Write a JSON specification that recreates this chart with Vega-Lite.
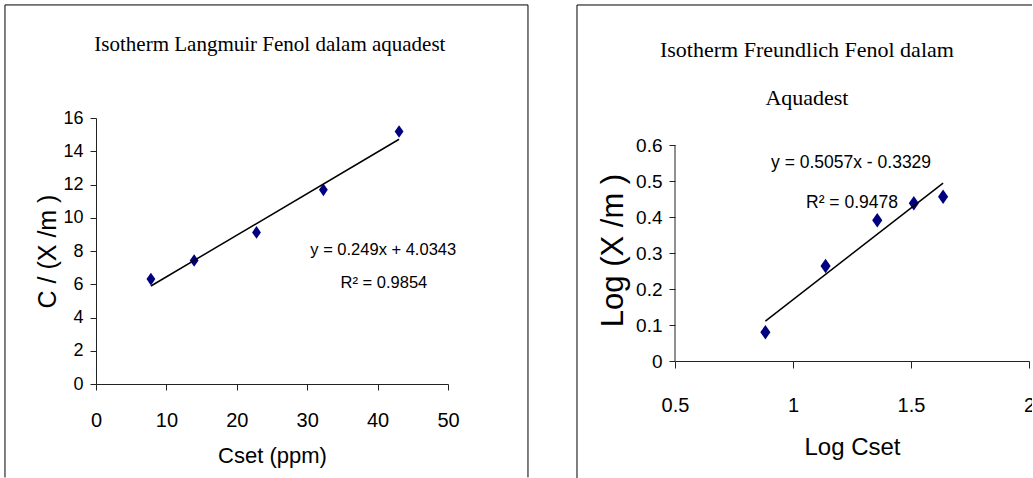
{
  "$schema": "https://vega.github.io/schema/vega-lite/v6.json",
  "padding": {"left": 4, "top": 4, "right": -3, "bottom": -1},
  "autosize": {"type": "pad"},
  "spacing": 47,
  "background": "white",
  "config": {
    "view": {"stroke": null},
    "axis": {"domainColor": "#222", "tickColor": "#222", "labelColor": "#000", "titleColor": "#000", "titleFontWeight": "normal", "grid": false, "domainWidth": 1, "tickWidth": 1, "labelOverlap": false, "labelSeparation": 0}
  },
  "datasets": {
    "langmuir": [
      {"cset": 7.8, "cf": 6.31},
      {"cset": 13.94, "cf": 7.43},
      {"cset": 22.8, "cf": 9.12},
      {"cset": 32.3, "cf": 11.68},
      {"cset": 43.05, "cf": 15.19}
    ],
    "freundlich": [
      {"logc": 0.883, "logq": 0.08},
      {"logc": 1.138, "logq": 0.264},
      {"logc": 1.357, "logq": 0.391},
      {"logc": 1.512, "logq": 0.438},
      {"logc": 1.636, "logq": 0.456}
    ],
    "one": [{}]
  },
  "hconcat": [
    {
      "width": 352,
      "height": 266,
      "layer": [
        {
          "data": {"name": "langmuir"},
          "mark": {"type": "point", "filled": true, "shape": "M0,-1L0.7,0L0,1L-0.7,0Z", "size": 160, "color": "#000080", "opacity": 1},
          "encoding": {
            "x": {"field": "cset", "type": "quantitative", "scale": {"domain": [0, 50], "nice": false},
              "axis": {"title": "Cset (ppm)", "values": [0, 10, 20, 30, 40, 50], "format": "d", "labelOverlap": false, "labelFlush": false, "labelFont": "Liberation Sans", "labelFontSize": 20, "labelPadding": 20, "tickSize": 6, "titleFont": "Liberation Sans", "titleFontSize": 22, "titlePadding": 15}},
            "y": {"field": "cf", "type": "quantitative", "scale": {"domain": [0, 16], "nice": false},
              "axis": {"title": "C / (X /m )", "values": [0, 2, 4, 6, 8, 10, 12, 14, 16], "tickCount": 9, "format": "d", "labelOverlap": false, "labelFont": "Liberation Sans", "labelFontSize": 18, "labelPadding": 7, "tickSize": 6, "titleFont": "Liberation Sans", "titleFontSize": 25, "titlePadding": 2}}
          }
        },
        {
          "data": {"name": "langmuir"},
          "transform": [{"regression": "cf", "on": "cset"}],
          "mark": {"type": "line", "color": "#000", "strokeWidth": 1.5},
          "encoding": {
            "x": {"field": "cset", "type": "quantitative", "scale": {"domain": [0, 50], "nice": false}},
            "y": {"field": "cf", "type": "quantitative", "scale": {"domain": [0, 16], "nice": false}}
          }
        },
        {
          "data": {"name": "one"},
          "mark": {"type": "text", "text": "y = 0.249x + 4.0343", "font": "Liberation Sans", "fontSize": 16.5, "color": "#000"},
          "encoding": {
            "x": {"datum": 40.8, "type": "quantitative", "scale": {"domain": [0, 50], "nice": false}},
            "y": {"datum": 8.06, "type": "quantitative", "scale": {"domain": [0, 16], "nice": false}}
          }
        },
        {
          "data": {"name": "one"},
          "mark": {"type": "text", "text": "R² = 0.9854", "font": "Liberation Sans", "fontSize": 16.5, "color": "#000"},
          "encoding": {
            "x": {"datum": 40.9, "type": "quantitative", "scale": {"domain": [0, 50], "nice": false}},
            "y": {"datum": 6.07, "type": "quantitative", "scale": {"domain": [0, 16], "nice": false}}
          }
        },
        {
          "data": {"name": "one"},
          "mark": {"type": "text", "text": "Isotherm Langmuir Fenol dalam aquadest", "font": "Liberation Serif", "fontSize": 21, "color": "#000"},
          "encoding": {
            "x": {"datum": 24.7, "type": "quantitative", "scale": {"domain": [0, 50], "nice": false}},
            "y": {"datum": 20.38, "type": "quantitative", "scale": {"domain": [0, 16], "nice": false}}
          }
        },
        {
          "data": {"name": "one"},
          "mark": {"type": "rule", "color": "#000", "strokeWidth": 1, "clip": false},
          "encoding": {
            "x": {"datum": -12.93, "type": "quantitative", "scale": {"domain": [0, 50], "nice": false}},
            "x2": {"datum": 61.36},
            "y": {"datum": 22.8, "type": "quantitative", "scale": {"domain": [0, 16], "nice": false}}
          }
        },
        {
          "data": {"name": "one"},
          "mark": {"type": "rule", "color": "#000", "strokeWidth": 1, "clip": false},
          "encoding": {
            "x": {"datum": -12.93, "type": "quantitative", "scale": {"domain": [0, 50], "nice": false}},
            "y": {"datum": 22.8, "type": "quantitative", "scale": {"domain": [0, 16], "nice": false}},
            "y2": {"datum": -5.62}
          }
        },
        {
          "data": {"name": "one"},
          "mark": {"type": "rule", "color": "#000", "strokeWidth": 1, "clip": false},
          "encoding": {
            "x": {"datum": 61.36, "type": "quantitative", "scale": {"domain": [0, 50], "nice": false}},
            "y": {"datum": 22.8, "type": "quantitative", "scale": {"domain": [0, 16], "nice": false}},
            "y2": {"datum": -5.62}
          }
        }
      ]
    },
    {
      "width": 354,
      "height": 243,
      "layer": [
        {
          "data": {"name": "freundlich"},
          "mark": {"type": "point", "filled": true, "shape": "M0,-1L0.7,0L0,1L-0.7,0Z", "size": 210, "color": "#000080", "opacity": 1},
          "encoding": {
            "x": {"field": "logc", "type": "quantitative", "scale": {"domain": [0.5, 2], "nice": false, "zero": false},
              "axis": {"title": "Log Cset", "values": [0.5, 1, 1.5, 2], "format": "~g", "labelOverlap": false, "labelFlush": false, "labelFont": "Liberation Sans", "labelFontSize": 20, "labelPadding": 27, "tickSize": 7, "titleFont": "Liberation Sans", "titleFontSize": 24, "titlePadding": 20}},
            "y": {"field": "logq", "type": "quantitative", "scale": {"domain": [0, 0.675], "nice": false},
              "axis": {"title": "Log (X /m )", "values": [0, 0.1, 0.2, 0.3, 0.4, 0.5, 0.6], "format": "~g", "domain": false, "labelOverlap": false, "labelFont": "Liberation Sans", "labelFontSize": 19, "labelPadding": 7, "tickSize": 6, "titleFont": "Liberation Sans", "titleFontSize": 31, "titlePadding": 6, "titleY": 132}}
          }
        },
        {
          "data": {"name": "freundlich"},
          "transform": [{"regression": "logq", "on": "logc"}],
          "mark": {"type": "line", "color": "#000", "strokeWidth": 1.5},
          "encoding": {
            "x": {"field": "logc", "type": "quantitative", "scale": {"domain": [0.5, 2], "nice": false, "zero": false}},
            "y": {"field": "logq", "type": "quantitative", "scale": {"domain": [0, 0.675], "nice": false}}
          }
        },
        {
          "data": {"name": "one"},
          "mark": {"type": "rule", "color": "#222", "strokeWidth": 1},
          "encoding": {
            "x": {"datum": 0.5, "type": "quantitative", "scale": {"domain": [0.5, 2], "nice": false, "zero": false}},
            "y": {"datum": 0, "type": "quantitative", "scale": {"domain": [0, 0.675], "nice": false}},
            "y2": {"datum": 0.6}
          }
        },
        {
          "data": {"name": "one"},
          "mark": {"type": "text", "text": "y = 0.5057x - 0.3329", "font": "Liberation Sans", "fontSize": 17.5, "color": "#000"},
          "encoding": {
            "x": {"datum": 1.246, "type": "quantitative", "scale": {"domain": [0.5, 2], "nice": false, "zero": false}},
            "y": {"datum": 0.55, "type": "quantitative", "scale": {"domain": [0, 0.675], "nice": false}}
          }
        },
        {
          "data": {"name": "one"},
          "mark": {"type": "text", "text": "R² = 0.9478", "font": "Liberation Sans", "fontSize": 17.5, "color": "#000"},
          "encoding": {
            "x": {"datum": 1.25, "type": "quantitative", "scale": {"domain": [0.5, 2], "nice": false, "zero": false}},
            "y": {"datum": 0.439, "type": "quantitative", "scale": {"domain": [0, 0.675], "nice": false}}
          }
        },
        {
          "data": {"name": "one"},
          "mark": {"type": "text", "text": "Isotherm Freundlich Fenol dalam", "font": "Liberation Serif", "fontSize": 22, "color": "#000"},
          "encoding": {
            "x": {"datum": 1.059, "type": "quantitative", "scale": {"domain": [0.5, 2], "nice": false, "zero": false}},
            "y": {"datum": 0.864, "type": "quantitative", "scale": {"domain": [0, 0.675], "nice": false}}
          }
        },
        {
          "data": {"name": "one"},
          "mark": {"type": "text", "text": "Aquadest", "font": "Liberation Serif", "fontSize": 22, "color": "#000"},
          "encoding": {
            "x": {"datum": 1.059, "type": "quantitative", "scale": {"domain": [0.5, 2], "nice": false, "zero": false}},
            "y": {"datum": 0.731, "type": "quantitative", "scale": {"domain": [0, 0.675], "nice": false}}
          }
        },
        {
          "data": {"name": "one"},
          "mark": {"type": "rule", "color": "#000", "strokeWidth": 1, "clip": false},
          "encoding": {
            "x": {"datum": 0.0847, "type": "quantitative", "scale": {"domain": [0.5, 2], "nice": false, "zero": false}},
            "x2": {"datum": 2.0169},
            "y": {"datum": 0.9889, "type": "quantitative", "scale": {"domain": [0, 0.675], "nice": false}}
          }
        },
        {
          "data": {"name": "one"},
          "mark": {"type": "rule", "color": "#000", "strokeWidth": 1, "clip": false},
          "encoding": {
            "x": {"datum": 0.0847, "type": "quantitative", "scale": {"domain": [0.5, 2], "nice": false, "zero": false}},
            "y": {"datum": 0.9889, "type": "quantitative", "scale": {"domain": [0, 0.675], "nice": false}},
            "y2": {"datum": -0.325}
          }
        }
      ]
    }
  ]
}
